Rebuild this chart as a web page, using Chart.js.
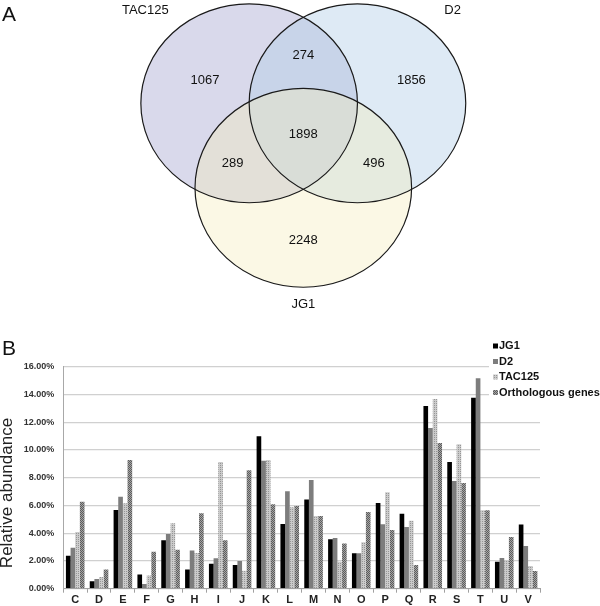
<!DOCTYPE html>
<html><head><meta charset="utf-8">
<script src="https://cdn.jsdelivr.net/npm/chart.js@4/dist/chart.umd.min.js"></script>
<style>
html,body{margin:0;padding:0;background:#fff;}
body{width:600px;height:606px;position:relative;overflow:hidden;font-family:"Liberation Sans",Arial,sans-serif;}
#venn{position:absolute;left:0;top:0;width:600px;height:320px;}
#bars{position:absolute;left:0;top:325px;width:600px;height:281px;}
.panel{position:absolute;left:2px;font-size:21px;line-height:21px;color:#111;}
</style></head><body>
<div id="venn"><canvas id="c1"></canvas></div>
<div id="bars"><canvas id="c2"></canvas></div>
<div class="panel" style="top:3px">A</div>
<div class="panel" style="top:337px">B</div>
<script>
// ---------- Panel A: Venn data ----------
const vennSets = ['TAC125', 'D2', 'JG1'];
const vennCenterX = [-0.5, 0.5, 0];
const vennCenterY = [0, 0, -0.85];
const vennRadius = [1, 1, 1];
const vennCounts = [1067, 1856, 2248, 274, 289, 496, 1898];
// label anchors (data units)
const vennCountX = [-0.908, 0.998, 0, 0, -0.652, 0.652, 0];
const vennCountY = [0.226, 0.226, -1.382, 0.479, -0.604, -0.604, -0.309];
const vennNameX = [-1.459, 1.379, 0];
const vennNameY = [0.934, 0.932, -2.02];

// ---------- Panel B: bar data (relative abundance, %) ----------
const categories = ['C','D','E','F','G','H','I','J','K','L','M','N','O','P','Q','R','S','T','U','V'];
const seriesNames = ['JG1', 'D2', 'TAC125', 'Orthologous genes'];
const jg1    = [2.38, 0.53, 5.67, 1.03, 3.49, 1.39, 1.80, 1.71, 10.99, 4.66, 6.42, 3.56, 2.55, 6.18, 5.41, 13.17, 9.13, 13.77, 1.95, 4.62];
const d2     = [2.96, 0.70, 6.63, 0.34, 3.94, 2.76, 2.19, 2.00, 9.23, 7.02, 7.84, 3.65, 2.55, 4.64, 4.45, 11.59, 7.76, 15.17, 2.21, 3.08];
const tac125 = [4.09, 0.84, 6.15, 0.96, 4.71, 2.57, 9.13, 1.30, 9.28, 5.87, 5.24, 1.95, 3.34, 6.95, 4.90, 13.68, 10.41, 5.65, 2.07, 1.63];
const ortho  = [6.27, 1.39, 9.28, 2.67, 2.81, 5.43, 3.49, 8.53, 6.08, 5.96, 5.24, 3.25, 5.53, 4.23, 1.71, 10.50, 7.62, 5.65, 3.73, 1.27];
const yTickMax = 16, yTickStep = 2;

const FONT = '"Liberation Sans", Arial, sans-serif';

// ---------- Venn chart ----------
function unitPx(chart) {
  const x = chart.scales.x, y = chart.scales.y;
  return {
    kx: Math.abs(x.getPixelForValue(1) - x.getPixelForValue(0)),
    ky: Math.abs(y.getPixelForValue(1) - y.getPixelForValue(0))
  };
}
const radiusFn = ctx => unitPx(ctx.chart).ky * vennRadius[ctx.dataset.setIndex];
const fillCols = ['rgba(160,160,205,0.40)', 'rgba(178,206,232,0.43)', 'rgba(244,237,187,0.38)'];

const vennDatasets = [];
vennSets.forEach((name, i) => {
  vennDatasets.push({
    label: name, setIndex: i, clip: false,
    data: [{x: vennCenterX[i], y: vennCenterY[i]}],
    pointRadius: radiusFn, pointHoverRadius: radiusFn,
    pointBackgroundColor: fillCols[i], pointBorderWidth: 0, pointBorderColor: 'rgba(0,0,0,0)',
    order: 10 - i
  });
});
vennSets.forEach((name, i) => {
  vennDatasets.push({
    label: name + ' outline', setIndex: i, clip: false,
    data: [{x: vennCenterX[i], y: vennCenterY[i]}],
    pointRadius: radiusFn, pointHoverRadius: radiusFn,
    pointBackgroundColor: 'rgba(0,0,0,0)', pointBorderWidth: 1.1, pointBorderColor: '#1a1a1a',
    order: 3 - i
  });
});

const ellipsePlugin = {
  id: 'ellipse',
  beforeDatasetDraw(chart, args) {
    const el = args.meta.data[0];
    const ctx = chart.ctx;
    ctx.save();
    if (!el) return;
    const {kx, ky} = unitPx(chart);
    ctx.translate(el.x, el.y);
    ctx.scale(kx / ky, 1);
    ctx.translate(-el.x, -el.y);
  },
  afterDatasetDraw(chart) { chart.ctx.restore(); }
};
const vennTextPlugin = {
  id: 'vennText',
  afterDatasetsDraw(chart) {
    const ctx = chart.ctx, sx = chart.scales.x, sy = chart.scales.y;
    ctx.save();
    ctx.font = '13px ' + FONT;
    ctx.fillStyle = '#111';
    ctx.textAlign = 'center';
    ctx.textBaseline = 'middle';
    vennCounts.forEach((c, i) => ctx.fillText(String(c), sx.getPixelForValue(vennCountX[i]), sy.getPixelForValue(vennCountY[i])));
    vennSets.forEach((n, i) => ctx.fillText(n, sx.getPixelForValue(vennNameX[i]), sy.getPixelForValue(vennNameY[i])));
    ctx.restore();
  }
};

new Chart(document.getElementById('c1'), {
  type: 'scatter',
  data: {datasets: vennDatasets},
  options: {
    responsive: true, maintainAspectRatio: false, animation: false, events: [],
    devicePixelRatio: 1,
    layout: {padding: 0},
    plugins: {legend: {display: false}, tooltip: {enabled: false}},
    scales: {
      x: {type: 'linear', display: false, min: -2.8006, max: 2.7396},
      y: {type: 'linear', display: false, min: -2.180, max: 1.0392}
    }
  },
  plugins: [ellipsePlugin, vennTextPlugin]
});

// ---------- Bar chart ----------
function makePattern(bg, fg, kind) {
  const c = document.createElement('canvas');
  c.width = 4; c.height = 4;
  const g = c.getContext('2d');
  g.fillStyle = bg; g.fillRect(0, 0, 4, 4);
  g.fillStyle = fg;
  if (kind === 'dots') { g.fillRect(0, 0, 1, 1); g.fillRect(2, 2, 1, 1); g.fillRect(2, 0, 1, 1); g.fillRect(0, 2, 1, 1); }
  else { for (let i = 0; i < 4; i++) g.fillRect(i, 3 - i, 1, 1); for (let i = 0; i < 4; i++) g.fillRect(i, (5 - i) % 4, 1, 1); }
  return g.createPattern(c, 'repeat');
}
const colJG1 = '#000000';
const colD2 = '#7d7d7d';
const colTAC = makePattern('#cbcbcb', '#969696', 'dots');
const colOrtho = makePattern('#a4a4a4', '#5c5c5c', 'diag');

const legendPlugin = {
  id: 'boxLegend',
  afterDraw(chart) {
    const ctx = chart.ctx;
    ctx.save();
    ctx.fillStyle = '#fff';
    ctx.fillRect(489, 12, 111, 64);
    ctx.font = 'bold 11px ' + FONT;
    ctx.textBaseline = 'middle';
    ctx.textAlign = 'left';
    chart.data.datasets.forEach((ds, i) => {
      const yc = 21 + i * 15.5;
      ctx.fillStyle = ds.backgroundColor;
      ctx.fillRect(493, yc - 2.5, 5, 5);
      ctx.fillStyle = '#111';
      ctx.fillText(ds.label, 499, yc);
    });
    ctx.restore();
  }
};
const yTitlePlugin = {
  id: 'yTitle',
  afterDraw(chart) {
    const ctx = chart.ctx;
    ctx.save();
    ctx.translate(7.5, 168);
    ctx.rotate(-Math.PI / 2);
    ctx.font = '17px ' + FONT;
    ctx.fillStyle = '#222';
    ctx.textAlign = 'center';
    ctx.textBaseline = 'middle';
    ctx.fillText('Relative abundance', 0, 0);
    ctx.restore();
  }
};

new Chart(document.getElementById('c2'), {
  type: 'bar',
  data: {
    labels: categories,
    datasets: [
      {label: seriesNames[0], data: jg1, backgroundColor: colJG1},
      {label: seriesNames[1], data: d2, backgroundColor: colD2},
      {label: seriesNames[2], data: tac125, backgroundColor: colTAC},
      {label: seriesNames[3], data: ortho, backgroundColor: colOrtho}
    ]
  },
  options: {
    responsive: true, maintainAspectRatio: false, animation: false, events: [],
    devicePixelRatio: 1,
    layout: {padding: {left: 0, right: 60, top: 41.7, bottom: 0}},
    datasets: {bar: {categoryPercentage: 0.78, barPercentage: 1, borderWidth: 0}},
    plugins: {legend: {display: false}, tooltip: {enabled: false}},
    scales: {
      x: {
        grid: {offset: true, drawOnChartArea: false, drawTicks: true, tickLength: 4, color: '#a0a0a0'},
        border: {color: '#a0a0a0'},
        ticks: {font: {family: FONT, size: 11, weight: 'bold'}, color: '#222', padding: 1, maxRotation: 0, autoSkip: false},
        afterFit: s => { s.height = 17.3; }
      },
      y: {
        min: 0, max: yTickMax,
        ticks: {stepSize: yTickStep, callback: v => v.toFixed(2) + '%', font: {family: FONT, size: 9, weight: 'bold'}, color: '#333', padding: 9},
        grid: {color: '#d0d0d0', lineWidth: 1.3, drawTicks: false},
        border: {color: '#a8a8a8'},
        afterFit: s => { s.width = 63.3; }
      }
    }
  },
  plugins: [legendPlugin, yTitlePlugin]
});
</script>
</body></html>
